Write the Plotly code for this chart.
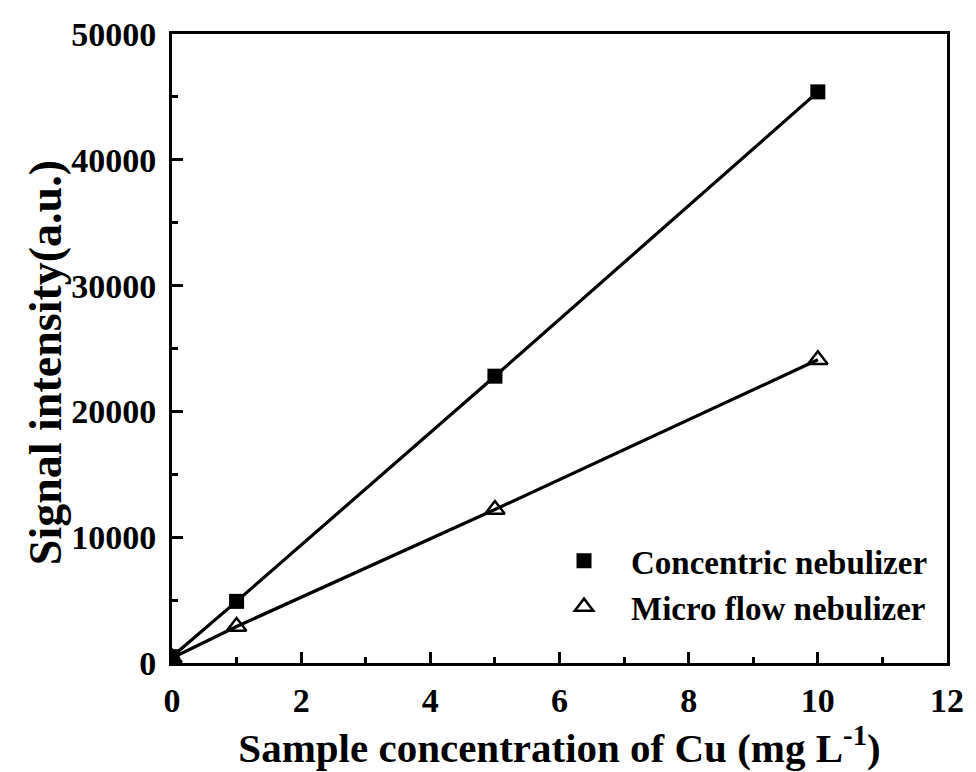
import plotly.graph_objects as go

# Cu calibration: signal intensity vs. sample concentration
conc = [0, 1, 5, 10]
concentric = [500, 4900, 22800, 45400]
micro_flow = [400, 2900, 12200, 24100]

series_names = ["Concentric nebulizer", "Micro flow nebulizer"]
y_title = "Signal intensity(a.u.)"
x_title = "Sample concentration of Cu (mg L<sup>-1</sup>)"

FONT = "Liberation Serif"
BLACK = "#000000"

fig = go.Figure()

# connecting lines (kept out of the legend)
for ys in (concentric, micro_flow):
    fig.add_trace(go.Scatter(x=conc, y=ys, mode="lines",
                             line=dict(color=BLACK, width=3.2),
                             showlegend=False, hoverinfo="skip"))

# markers carry the legend entries
fig.add_trace(go.Scatter(x=conc, y=concentric, mode="markers", name=series_names[0],
                         marker=dict(symbol="square", size=15, color=BLACK,
                                     line=dict(width=0))))
fig.add_trace(go.Scatter(x=conc, y=micro_flow, mode="markers", name=series_names[1],
                         marker=dict(symbol="triangle-up-open", size=17, color=BLACK,
                                     line=dict(width=2.5, color=BLACK))))

axis_common = dict(
    showline=True, linecolor=BLACK, linewidth=3, mirror=True,
    ticks="inside", tickcolor=BLACK, tickwidth=2.5, ticklen=11,
    showgrid=False, zeroline=False,
    tickfont=dict(family=FONT, size=34, color=BLACK, weight="bold"),
)

fig.update_xaxes(
    range=[0, 12], tick0=0, dtick=2,
    minor=dict(ticks="inside", dtick=1, ticklen=6, tickwidth=2.5, tickcolor=BLACK),
    title=dict(text=f"<b>{x_title}</b>",
               font=dict(family=FONT, size=41, color=BLACK), standoff=8),
    ticklabelstandoff=5,
    **axis_common,
)
fig.update_yaxes(
    range=[0, 50000], tick0=0, dtick=10000,
    minor=dict(ticks="inside", dtick=5000, ticklen=6, tickwidth=2.5, tickcolor=BLACK),
    ticklabelstandoff=6,
    tickformat="d",
    **axis_common,
)

# y-axis title placed as a rotated annotation
fig.add_annotation(text=f"<b>{y_title}</b>", textangle=-90,
                   xref="paper", yref="paper", x=-0.163, y=0.5,
                   xanchor="center", yanchor="middle", yshift=-14,
                   showarrow=False,
                   font=dict(family=FONT, size=46, color=BLACK))

fig.update_layout(
    width=976, height=772,
    margin=dict(l=172, r=21, t=34, b=109),
    paper_bgcolor="white", plot_bgcolor="white",
    font=dict(family=FONT, color=BLACK, weight="bold"),
    legend=dict(x=0.471, y=0.207, xanchor="left", yanchor="top",
                bgcolor="rgba(0,0,0,0)", borderwidth=0,
                font=dict(family=FONT, size=33, color=BLACK, weight="bold"),
                itemwidth=84, tracegroupgap=0),
)

fig.write_html("out.html")
